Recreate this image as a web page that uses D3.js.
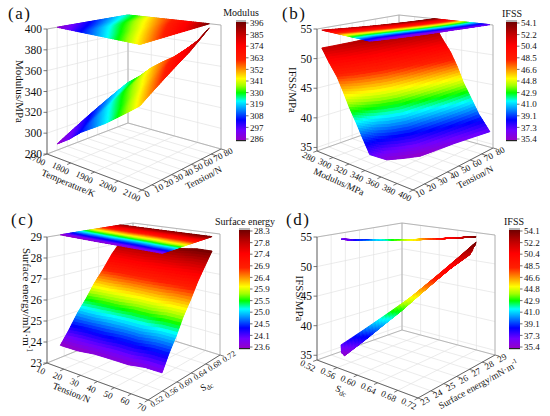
<!DOCTYPE html>
<html lang="en">
<head>
<meta charset="utf-8">
<script src="https://cdn.jsdelivr.net/npm/d3@7"></script>
<style>
  body { margin:0; padding:0; background:#ffffff; }
  svg { display:block; font-family:"Liberation Serif","Times New Roman",serif; }
</style>
</head>
<body>
<svg id="chart" width="550" height="416"></svg>
<script>
// measurement grid: columns = temperature (K), rows = tension (N)
var temperature = [1700, 1750, 1800, 1850, 1900, 1950, 2000, 2050];
var tension = [10, 20, 30, 40, 50, 60, 70, 80];

// Modulus/MPa  [tension row][temperature col]
var modulus = [
  [286.0, 294.6, 305.1, 312.7, 320.2, 328.8, 337.3, 345.9],
  [291.6, 300.3, 311.0, 318.7, 326.4, 335.1, 343.8, 352.5],
  [297.1, 306.0, 316.8, 324.7, 332.4, 341.3, 350.1, 359.0],
  [302.7, 311.7, 322.7, 330.7, 338.6, 347.6, 356.6, 365.6],
  [308.3, 317.5, 328.5, 336.7, 344.8, 353.9, 363.0, 372.2],
  [313.9, 323.2, 334.4, 342.8, 351.0, 360.3, 369.5, 378.8],
  [319.4, 328.9, 340.2, 348.7, 357.0, 366.5, 375.9, 387.0],
  [325.0, 334.6, 346.1, 354.7, 362.2, 371.8, 382.0, 396.0]
];
// IFSS/MPa
var ifss = [
  [52.0, 50.0, 47.9, 45.8, 43.6, 41.5, 39.3, 37.2],
  [52.3, 50.1, 47.8, 45.5, 43.1, 40.7, 38.3, 35.9],
  [52.6, 50.3, 47.9, 45.4, 42.9, 40.4, 38.0, 35.6],
  [52.9, 50.5, 48.0, 45.5, 42.9, 40.4, 37.9, 35.4],
  [53.2, 50.8, 48.3, 45.8, 43.3, 40.8, 38.3, 35.8],
  [53.5, 51.1, 48.7, 46.2, 43.7, 41.2, 38.7, 36.2],
  [53.8, 51.4, 49.0, 46.6, 44.1, 41.6, 39.1, 36.6],
  [54.1, 51.7, 49.3, 46.9, 44.4, 42.0, 39.5, 37.0]
];
// Sdc
var sdc = [
  [0.692, 0.671, 0.651, 0.631, 0.611, 0.591, 0.571, 0.551],
  [0.693, 0.672, 0.652, 0.632, 0.612, 0.592, 0.572, 0.552],
  [0.694, 0.673, 0.653, 0.633, 0.613, 0.593, 0.573, 0.553],
  [0.695, 0.675, 0.655, 0.635, 0.615, 0.595, 0.575, 0.555],
  [0.696, 0.676, 0.656, 0.636, 0.616, 0.596, 0.576, 0.556],
  [0.697, 0.677, 0.657, 0.637, 0.617, 0.598, 0.578, 0.558],
  [0.698, 0.678, 0.658, 0.638, 0.618, 0.599, 0.579, 0.559],
  [0.699, 0.679, 0.659, 0.639, 0.619, 0.600, 0.580, 0.561]
];
// Surface energy/mN·m-1
var surfEnergy = [
  [28.1, 27.5, 26.8, 26.2, 25.5, 24.9, 24.2, 23.6],
  [28.1, 27.5, 26.9, 26.2, 25.6, 24.9, 24.3, 23.6],
  [28.2, 27.5, 26.9, 26.3, 25.6, 25.0, 24.3, 23.7],
  [28.2, 27.6, 26.9, 26.3, 25.7, 25.0, 24.4, 23.7],
  [28.2, 27.6, 27.0, 26.3, 25.7, 25.0, 24.4, 23.7],
  [28.3, 27.7, 27.0, 26.4, 25.8, 25.1, 24.5, 23.8],
  [28.3, 27.7, 27.1, 26.4, 25.8, 25.1, 24.5, 23.8],
  [28.3, 27.7, 27.1, 26.5, 25.8, 25.2, 24.5, 23.8]
];

// axis tick labels
var tempTicks = [1700, 1800, 1900, 2000, 2100];
var tensionTicksA = [0, 10, 20, 30, 40, 50, 60, 70, 80];
var modulusTicks = [280, 300, 320, 340, 360, 380, 400];
var tensionTicksB = [10, 20, 30, 40, 50, 60, 70, 80];
var ifssTicks = [35, 40, 45, 50, 55];
var tensionTicksC = [10, 20, 30, 40, 50, 60, 70];
var sdcTicks = [0.52, 0.56, 0.60, 0.64, 0.68, 0.72];
var seTicks = [23, 24, 25, 26, 27, 28, 29];

// colour bar labels
var modulusBar = ["396", "385", "374", "363", "352", "341", "330", "319", "308", "297", "286"];
var ifssBar = ["54.1", "52.2", "50.4", "48.5", "46.6", "44.8", "42.9", "41.0", "39.1", "37.3", "35.4"];
var seBar = ["28.3", "27.8", "27.4", "26.9", "26.4", "25.9", "25.5", "25.0", "24.5", "24.1", "23.6"];

// rainbow colour map (fraction of bar -> colour)
var cmapStops = [0, 0.08, 0.17, 0.27, 0.33, 0.40, 0.46, 0.52, 0.60, 0.68, 0.80, 0.90, 1];
var cmapColors = ["#9400c8", "#7000ff", "#0000ff", "#00a0ff", "#00ffff", "#00ff00",
                  "#a0ff00", "#ffff00", "#ff9000", "#ff2000", "#ff0000", "#c00000", "#700000"];

var f2 = d3.format(".2f");

var panels = [
  { letter: "(a)", lx: 8, ly: 19,
    floor: { L: [47, 154], F: [142, 190], R: [221, 149], B: [128, 123] },
    top:   { L: [47, 29],  F: [142, 50],  R: [221, 25],  B: [128, 15] },
    xDom: [1700, 2100], yDom: [0, 80], zDom: [280, 400],
    xTicks: tempTicks, yTicks: tensionTicksA, zTicks: modulusTicks,
    xFmt: String, yFmt: String, yFont: 9,
    xTitle: "Temperature/K", yTitle: "Tension/N", zTitle: "Modulus/MPa", zTitleX: 20,
    rows: 8,
    node: function(i, j) { return [temperature[i], tension[j], modulus[j][i]]; },
    bar: { x: 236, y: 22, w: 10, h: 118, labels: modulusBar, title: "Modulus", tx: 241, ty: 16 } },
  { letter: "(b)", lx: 282, ly: 19,
    floor: { L: [317, 151], F: [413, 190], R: [493, 148], B: [399, 122] },
    top:   { L: [317, 29],  F: [413, 51],  R: [493, 25],  B: [399, 15] },
    xDom: [280, 400], yDom: [10, 80], zDom: [34.4, 55],
    xTicks: modulusTicks, yTicks: tensionTicksB, zTicks: ifssTicks,
    xFmt: String, yFmt: String, yFont: 9,
    xTitle: "Modulus/MPa", yTitle: "Tension/N", zTitle: "IFSS/MPa", zTitleX: 293,
    rows: 8,
    node: function(i, j) { return [modulus[j][i], tension[j], ifss[j][i]]; },
    bar: { x: 506, y: 22, w: 11, h: 118, labels: ifssBar, title: "IFSS", tx: 512, ty: 17 } },
  { letter: "(c)", lx: 11, ly: 225,
    floor: { L: [47, 363], F: [148, 400], R: [220, 355], B: [133, 328] },
    top:   { L: [47, 237], F: [148, 258], R: [220, 234], B: [133, 223] },
    xDom: [10, 70], yDom: [0.52, 0.72], zDom: [23, 29],
    xTicks: tensionTicksC, yTicks: sdcTicks, zTicks: seTicks,
    xFmt: String, yFmt: f2, yFont: 8,
    xTitle: "Tension/N", yTitle: "Sdc", zTitle: "Surface energy/mN·m", zSup: "-1", zTitleX: 27,
    rows: 7,   // the tension axis of (c) ends at 70 N
    node: function(i, j) { return [tension[j], sdc[j][i], surfEnergy[j][i]]; },
    bar: { x: 239, y: 230, w: 11, h: 118, labels: seBar, title: "Surface energy", tx: 245, ty: 225 } },
  { letter: "(d)", lx: 286, ly: 225,
    floor: { L: [317, 360], F: [418, 398], R: [495, 355], B: [402, 330] },
    top:   { L: [317, 237], F: [418, 262], R: [495, 235], B: [402, 223] },
    xDom: [0.52, 0.72], yDom: [23, 29], zDom: [34.2, 55],
    xTicks: sdcTicks, yTicks: seTicks, zTicks: ifssTicks,
    xFmt: f2, yFmt: String, yFont: 9,
    xTitle: "Sdc", yTitle: "Surface energy/mN·m", ySup: "-1", zTitle: "IFSS/MPa", zTitleX: 300,
    rows: 8,
    node: function(i, j) { return [sdc[j][i], surfEnergy[j][i], ifss[j][i]]; },
    bar: { x: 509, y: 230, w: 11, h: 118, labels: ifssBar, title: "IFSS", tx: 514, ty: 225 } }
];

var svg = d3.select("#chart");
var defs = svg.append("defs");

function bil(q, u, v) {
  var a = (1 - u) * (1 - v), b = u * (1 - v), c = u * v, d = (1 - u) * v;
  return [q.L[0] * a + q.F[0] * b + q.R[0] * c + q.B[0] * d,
          q.L[1] * a + q.F[1] * b + q.R[1] * c + q.B[1] * d];
}

// title with "S_dc" subscript or a "-1" superscript
function setTitle(sel, txt, sup) {
  if (txt === "Sdc") {
    sel.append("tspan").text("S");
    sel.append("tspan").attr("dy", 2).attr("font-size", "0.75em").text("dc");
    return;
  }
  sel.append("tspan").text(txt);
  if (sup) sel.append("tspan").attr("dy", -4).attr("font-size", "0.7em").text(sup);
}

panels.forEach(function(p, pi) {
  var g = svg.append("g");
  var sx = d3.scaleLinear().domain(p.xDom).range([0, 1]);
  var sy = d3.scaleLinear().domain(p.yDom).range([0, 1]);
  var sz = d3.scaleLinear().domain(p.zDom).range([0, 1]);
  function P(u, v, w) {
    var a = bil(p.floor, u, v), b = bil(p.top, u, v);
    return [a[0] + (b[0] - a[0]) * w, a[1] + (b[1] - a[1]) * w];
  }
  var lo = +p.bar.labels[p.bar.labels.length - 1], hi = +p.bar.labels[0];
  var cmap = d3.scaleLinear()
    .domain(cmapStops.map(function(s) { return lo + s * (hi - lo); }))
    .range(cmapColors).clamp(true);

  // grid on floor and back walls
  var grid = [];
  p.xTicks.forEach(function(t) { var u = sx(t); grid.push([P(u, 0, 0), P(u, 1, 0)], [P(u, 1, 0), P(u, 1, 1)]); });
  p.yTicks.forEach(function(t) { var v = sy(t); grid.push([P(0, v, 0), P(1, v, 0)], [P(0, v, 0), P(0, v, 1)]); });
  p.zTicks.forEach(function(t) { var w = sz(t); grid.push([P(0, 0, w), P(0, 1, w)], [P(0, 1, w), P(1, 1, w)]); });
  g.selectAll("line.grid").data(grid).join("line").attr("class", "grid")
    .attr("x1", function(d) { return d[0][0]; }).attr("y1", function(d) { return d[0][1]; })
    .attr("x2", function(d) { return d[1][0]; }).attr("y2", function(d) { return d[1][1]; })
    .attr("stroke", "#e2e2e2").attr("stroke-width", 0.7);

  var back = [[P(0, 0, 0), P(0, 1, 0)], [P(0, 1, 0), P(1, 1, 0)], [P(0, 1, 0), P(0, 1, 1)],
              [P(1, 1, 0), P(1, 1, 1)], [P(0, 0, 1), P(0, 1, 1)], [P(0, 1, 1), P(1, 1, 1)]];
  g.selectAll("line.back").data(back).join("line").attr("class", "back")
    .attr("x1", function(d) { return d[0][0]; }).attr("y1", function(d) { return d[0][1]; })
    .attr("x2", function(d) { return d[1][0]; }).attr("y2", function(d) { return d[1][1]; })
    .attr("stroke", "#a8a8a8").attr("stroke-width", 0.8);

  // surface facets (each grid cell shaded in sub x sub pieces)
  var cols = temperature.length, sub = 6;
  var nodes = d3.range(p.rows).map(function(j) {
    return d3.range(cols).map(function(i) {
      var n = p.node(i, j);
      return { u: sx(n[0]), v: sy(n[1]), w: sz(n[2]), z: n[2] };
    });
  });
  var facets = [];
  for (var j = 0; j < p.rows - 1; j++) {
    for (var i = 0; i < cols - 1; i++) {
      var q = [nodes[j][i], nodes[j][i + 1], nodes[j + 1][i + 1], nodes[j + 1][i]];
      var corner = (function(q) {
        return function(s, t) {
          var k = [(1 - s) * (1 - t), s * (1 - t), s * t, (1 - s) * t], o = {};
          ["u", "v", "w", "z"].forEach(function(key) {
            o[key] = k[0] * q[0][key] + k[1] * q[1][key] + k[2] * q[2][key] + k[3] * q[3][key];
          });
          return o;
        };
      })(q);
      for (var a = 0; a < sub; a++) {
        for (var b = 0; b < sub; b++) {
          var cs = [corner(a / sub, b / sub), corner((a + 1) / sub, b / sub),
                    corner((a + 1) / sub, (b + 1) / sub), corner(a / sub, (b + 1) / sub)];
          facets.push({ cs: cs, z: d3.mean(cs, function(c) { return c.z; }),
                        depth: d3.mean(cs, function(c) { return c.v - c.u - 0.3 * c.w; }) });
        }
      }
    }
  }
  facets.sort(function(a, b) { return b.depth - a.depth; });

  function pts(cs, flat) {
    return cs.map(function(c) { return P(c.u, c.v, flat ? 1 : c.w).join(","); }).join(" ");
  }
  // two passes: a stroked underlay closes the seams, the clean fill goes on top
  function drawMap(flat) {
    var layer = g.append("g");
    layer.append("g").selectAll("polygon").data(facets).join("polygon")
      .attr("points", function(d) { return pts(d.cs, flat); })
      .attr("fill", function(d) { return cmap(d.z); })
      .attr("stroke", function(d) { return cmap(d.z); })
      .attr("stroke-width", 0.9).attr("stroke-linejoin", "round");
    layer.append("g").selectAll("polygon").data(facets).join("polygon")
      .attr("points", function(d) { return pts(d.cs, flat); })
      .attr("fill", function(d) { return cmap(d.z); });
  }
  drawMap(false);
  // projection of the map onto the top plane
  drawMap(true);

  // front axes
  var front = [[P(0, 0, 0), P(1, 0, 0)], [P(1, 0, 0), P(1, 1, 0)], [P(0, 0, 0), P(0, 0, 1)]];
  g.selectAll("line.front").data(front).join("line").attr("class", "front")
    .attr("x1", function(d) { return d[0][0]; }).attr("y1", function(d) { return d[0][1]; })
    .attr("x2", function(d) { return d[1][0]; }).attr("y2", function(d) { return d[1][1]; })
    .attr("stroke", "#555").attr("stroke-width", 0.9);

  var fl = p.floor;
  var angX = Math.atan2(fl.F[1] - fl.L[1], fl.F[0] - fl.L[0]) * 180 / Math.PI;
  var angY = Math.atan2(fl.R[1] - fl.F[1], fl.R[0] - fl.F[0]) * 180 / Math.PI;

  // z axis
  p.zTicks.forEach(function(t) {
    var pt = P(0, 0, sz(t));
    g.append("line").attr("x1", pt[0] - 3.5).attr("x2", pt[0]).attr("y1", pt[1]).attr("y2", pt[1])
      .attr("stroke", "#555").attr("stroke-width", 0.8);
    g.append("text").attr("x", pt[0] - 5).attr("y", pt[1]).attr("dy", "0.35em")
      .attr("text-anchor", "end").attr("font-size", 11.5).attr("fill", "#111").text(t);
  });
  var zMid = (P(0, 0, 0)[1] + P(0, 0, 1)[1]) / 2;
  setTitle(g.append("text").attr("transform", "translate(" + p.zTitleX + "," + zMid + ") rotate(90)")
    .attr("text-anchor", "middle").attr("dy", "0.35em").attr("font-size", 11).attr("fill", "#111"),
    p.zTitle, p.zSup);

  // x axis (left-front)
  p.xTicks.forEach(function(t) {
    var u = sx(t), a0 = P(u, 0, 0), a1 = P(u, -0.045, 0);
    g.append("line").attr("x1", a0[0]).attr("y1", a0[1]).attr("x2", a1[0]).attr("y2", a1[1])
      .attr("stroke", "#555").attr("stroke-width", 0.8);
    g.append("text").attr("transform", "translate(" + (a0[0] - 2) + "," + (a0[1] + 9) + ") rotate(" + (angX + 5) + ")")
      .attr("text-anchor", "end").attr("dy", "0.35em").attr("font-size", 9).attr("fill", "#111").text(p.xFmt(t));
  });
  var xm = P(0.5, 0, 0);
  setTitle(g.append("text").attr("transform", "translate(" + (xm[0] - 26) + "," + (xm[1] + 11) + ") rotate(" + (angX + 2) + ")")
    .attr("text-anchor", "middle").attr("dy", "0.35em").attr("font-size", 9.5).attr("fill", "#111"),
    p.xTitle, p.xSup);

  // y axis (front-right)
  p.yTicks.forEach(function(t) {
    var v = sy(t), a0 = P(1, v, 0), a1 = P(1.045, v, 0);
    g.append("line").attr("x1", a0[0]).attr("y1", a0[1]).attr("x2", a1[0]).attr("y2", a1[1])
      .attr("stroke", "#555").attr("stroke-width", 0.8);
    g.append("text").attr("transform", "translate(" + (a0[0] + 3) + "," + (a0[1] + 5) + ") rotate(" + angY + ")")
      .attr("text-anchor", "start").attr("dy", "0.35em").attr("font-size", p.yFont).attr("fill", "#111").text(p.yFmt(t));
  });
  var ym = P(1, 0.5, 0);
  setTitle(g.append("text").attr("transform", "translate(" + (ym[0] + 22) + "," + (ym[1] + 8) + ") rotate(" + angY + ")")
    .attr("text-anchor", "middle").attr("dy", "0.35em").attr("font-size", 9.5).attr("fill", "#111"),
    p.yTitle, p.ySup);

  // panel letter
  g.append("text").attr("x", p.lx).attr("y", p.ly).attr("font-size", 17)
    .attr("letter-spacing", 1.5).attr("fill", "#111").text(p.letter);

  // colour bar
  var bar = p.bar, gid = "grad" + pi;
  var grad = defs.append("linearGradient").attr("id", gid)
    .attr("x1", 0).attr("y1", 1).attr("x2", 0).attr("y2", 0);
  cmapStops.forEach(function(s, k) { grad.append("stop").attr("offset", s).attr("stop-color", cmapColors[k]); });
  g.append("rect").attr("x", bar.x).attr("y", bar.y).attr("width", bar.w).attr("height", bar.h)
    .attr("fill", "url(#" + gid + ")");
  g.append("rect").attr("x", bar.x).attr("y", bar.y - 2).attr("width", bar.w).attr("height", 2).attr("fill", "#b4b4b4");
  g.append("rect").attr("x", bar.x).attr("y", bar.y + bar.h).attr("width", bar.w).attr("height", 1.2).attr("fill", "#222");
  var by = d3.scalePoint().domain(bar.labels).range([bar.y + 1, bar.y + bar.h - 1]);
  bar.labels.forEach(function(l) {
    g.append("line").attr("x1", bar.x + bar.w).attr("x2", bar.x + bar.w + 2.5)
      .attr("y1", by(l)).attr("y2", by(l)).attr("stroke", "#333").attr("stroke-width", 0.7);
    g.append("text").attr("x", bar.x + bar.w + 4).attr("y", by(l)).attr("dy", "0.35em")
      .attr("font-size", 9).attr("fill", "#111").text(l);
  });
  g.append("text").attr("x", bar.tx).attr("y", bar.ty).attr("text-anchor", "middle")
    .attr("font-size", 10).attr("fill", "#111").text(bar.title);
});
</script>
</body>
</html>
